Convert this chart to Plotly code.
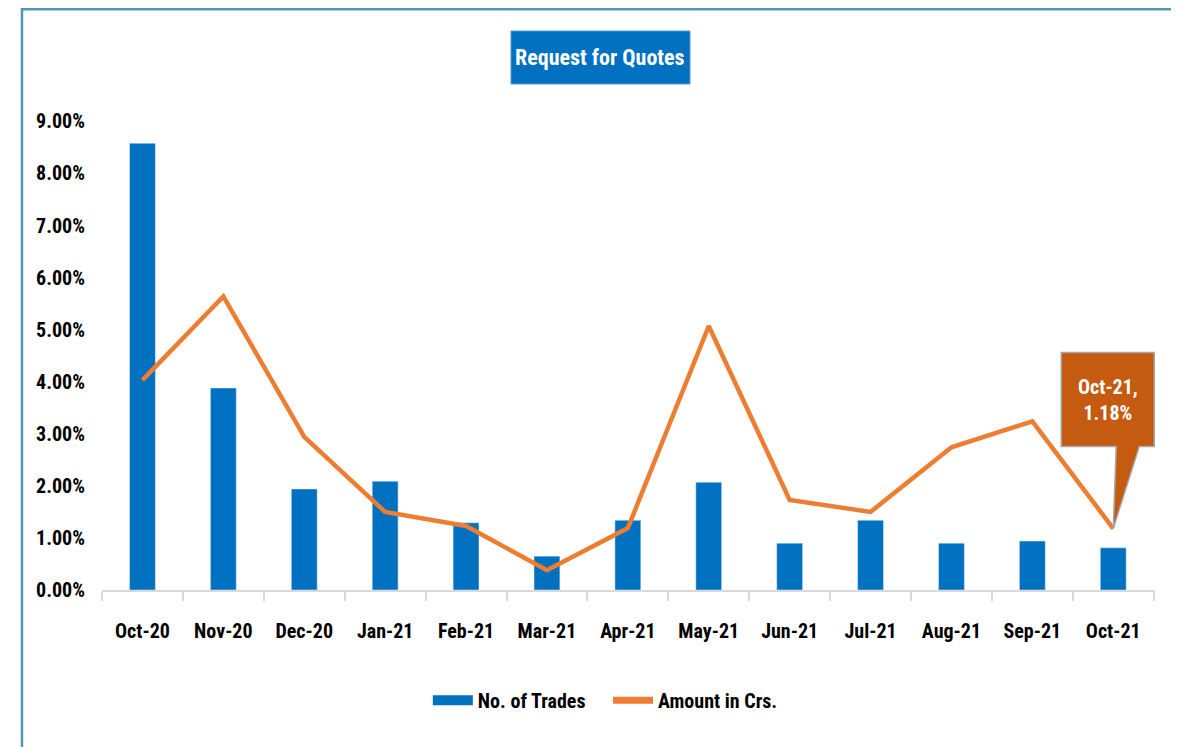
import plotly.graph_objects as go

months = ["Oct-20", "Nov-20", "Dec-20", "Jan-21", "Feb-21", "Mar-21", "Apr-21",
          "May-21", "Jun-21", "Jul-21", "Aug-21", "Sep-21", "Oct-21"]
trades = [8.58, 3.88, 1.94, 2.09, 1.29, 0.65, 1.34, 2.07, 0.90, 1.34, 0.90, 0.94, 0.81]
amount = [4.03, 5.64, 2.94, 1.50, 1.23, 0.38, 1.19, 5.07, 1.73, 1.50, 2.74, 3.24, 1.18]
y_ticks = [0, 1, 2, 3, 4, 5, 6, 7, 8, 9]
title_text = "Request for Quotes"
callout_idx = 12

FONT = "Liberation Sans Narrow, Roboto Condensed, Arial Narrow, Open Sans, sans-serif"
BLUE = "#0070C0"
ORANGE = "#ED7D31"

fig = go.Figure()
fig.add_trace(go.Bar(x=months, y=trades, name="No. of Trades", showlegend=False,
                     legendgroup="trades", marker=dict(color=BLUE), width=0.32))
fig.add_trace(go.Scatter(x=months, y=amount, name="Amount in Crs.", mode="lines",
                         showlegend=False, legendgroup="amount",
                         line=dict(color=ORANGE, width=4.5)))
# legend entries styled like the original (wide swatches)
fig.add_trace(go.Scatter(x=[None], y=[None], mode="lines",
                         name="<b>No. of Trades</b>\u2003",
                         legendgroup="trades", line=dict(color=BLUE, width=15)))
fig.add_trace(go.Scatter(x=[None], y=[None], mode="lines", name="<b>Amount in Crs.</b>",
                         legendgroup="amount", line=dict(color=ORANGE, width=7)))

# callout bubble anchored at the data point
cx, cy = months[callout_idx], amount[callout_idx]
fig.add_shape(type="path", xref="x", yref="y", xsizemode="pixel", ysizemode="pixel",
              xanchor=cx, yanchor=cy,
              path="M -52,176 L 41,176 L 41,82 L 26,82 L 0,0 L 3,82 L -52,82 Z",
              fillcolor="#C55A11", line=dict(color="#A6A6A6", width=1.5), layer="above")
fig.add_annotation(x=cx, y=cy, xref="x", yref="y", showarrow=False,
                   text=f"<b>{cx},<br>{cy:.2f}%</b>", xshift=-5, yshift=129,
                   font=dict(family=FONT, size=20, color="white"), align="center")

# title box
fig.add_shape(type="rect", xref="paper", yref="paper", x0=0.3884, x1=0.5584,
              y0=1.0564, y1=1.167, fillcolor=BLUE, line=dict(color="#5B9BD5", width=1))
fig.add_annotation(x=0.4734, y=1.1117, xref="paper", yref="paper", showarrow=False,
                   text=f"<b>{title_text}</b>",
                   font=dict(family=FONT, size=22, color="white"),
                   xanchor="center", yanchor="middle")

# outer border
fig.add_shape(type="rect", xref="paper", yref="paper", x0=-0.076, x1=1.0209,
              y0=-0.5, y1=1.2125, line=dict(color="#4A9BB0", width=2.5),
              fillcolor="rgba(0,0,0,0)", layer="below")

fig.update_layout(
    width=1171, height=739,
    margin=dict(l=94, r=24, t=103, b=157),
    paper_bgcolor="white", plot_bgcolor="white",
    font=dict(family=FONT, size=20, color="#000000"),
    showlegend=True,
    legend=dict(orientation="h", x=0.478, xanchor="center", y=-0.23, yanchor="middle",
                font=dict(family=FONT, size=20, color="#000000"), itemwidth=40,
                traceorder="normal"),
)
fig.update_xaxes(type="category", showline=True, linecolor="#D9D9D9", linewidth=1.5,
                 ticks="outside", tickson="boundaries", ticklen=9, tickcolor="#D9D9D9",
                 tickwidth=1.5, showgrid=False,
                 tickvals=months, ticktext=[f"<b>{m}</b>" for m in months],
                 tickfont=dict(family=FONT, size=20, color="#000000"),
                 ticklabelstandoff=22)
fig.update_yaxes(range=[0, 9.2], tickvals=y_ticks,
                 ticktext=[f"<b>{v:.2f}%</b>" for v in y_ticks],
                 showgrid=False, showline=False, zeroline=False,
                 ticklabelstandoff=16,
                 tickfont=dict(family=FONT, size=20, color="#000000"))

fig.write_html("out.html")
